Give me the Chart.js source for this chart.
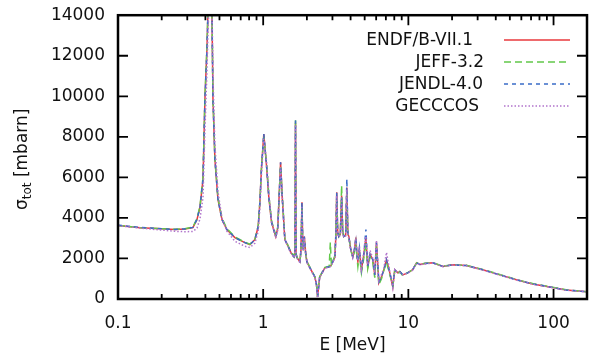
<!DOCTYPE html>
<html>
<head>
<meta charset="utf-8">
<script src="https://cdn.jsdelivr.net/npm/chart.js@4.4.1/dist/chart.umd.min.js"></script>
<style>
  html, body { margin: 0; padding: 0; background: #fff; }
  #wrap { width: 589px; height: 353px; }
</style>
</head>
<body>
<div id="wrap"><canvas id="c" width="589" height="353"></canvas></div>
<script>
// energy grid in MeV, shared by all four evaluations
const energy = [
  0.1, 0.142, 0.2, 0.247, 0.289, 0.328, 0.35, 0.367, 0.385, 0.397,
  0.41, 0.416, 0.433, 0.444, 0.451, 0.465, 0.488, 0.52, 0.562, 0.638,
  0.748, 0.81, 0.877, 0.924, 0.949, 0.975, 1.01, 1.055, 1.094, 1.142,
  1.22, 1.26, 1.288, 1.318, 1.351, 1.41, 1.486, 1.55, 1.63, 1.655,
  1.67, 1.685, 1.71, 1.79, 1.82, 1.85, 1.87, 1.89, 1.92, 1.96,
  2.0, 2.1, 2.27, 2.33, 2.37, 2.41, 2.45, 2.66, 2.85, 2.9,
  2.95, 3.02, 3.12, 3.17, 3.21, 3.26, 3.32, 3.4, 3.47, 3.53,
  3.59, 3.7, 3.77, 3.83, 3.89, 4.0, 4.14, 4.25, 4.35, 4.42,
  4.49, 4.6, 4.75, 4.93, 5.1, 5.25, 5.45, 5.69, 5.87, 6.03,
  6.26, 6.53, 6.77, 7.07, 7.45, 7.81, 8.06, 8.45, 8.73, 9.15,
  9.9, 10.7, 11.4, 12.0, 13.0, 14.7, 17.3, 20.2, 25.1, 32.5,
  42.6, 55.5, 71.8, 94, 122, 170
]

// total cross sections in mbarn
const endf = [
  3630, 3520, 3460, 3425, 3450, 3525, 3920, 4520, 5900, 9880,
  12360, 14000, 17000, 14000, 9880, 6900, 4915, 3920, 3425, 3030,
  2780, 2680, 2930, 3575, 4770, 6550, 8140, 6550, 5000, 3775,
  3080, 3500, 5080, 6740, 5080, 2930, 2600, 2300, 2085, 2300,
  8700, 2200, 2035, 1840, 2400, 4770, 3000, 2430, 3080, 2300,
  1840, 1540, 1090, 700, 100, 600, 1090, 1540, 1590, 1620,
  1680, 1840, 2085, 3200, 5260, 3300, 3080, 3200, 5100, 3300,
  3080, 3150, 5500, 3200, 3080, 2500, 2085, 2400, 3030, 2200,
  1840, 2400, 1440, 2185, 3000, 1590, 2200, 1940, 1190, 2780,
  795, 1090, 1440, 1940, 1290, 595, 1440, 1290, 1355, 1190,
  1290, 1440, 1790, 1700, 1750, 1790, 1600, 1690, 1650, 1440,
  1190, 945, 745, 595, 445, 360
]

const jeff = [
  3630, 3520, 3470, 3440, 3470, 3550, 3960, 4580, 6000, 9950,
  12450, 14100, 17000, 14000, 9950, 6950, 5000, 3980, 3480, 3060,
  2800, 2700, 2950, 3600, 4800, 6600, 8000, 6700, 5100, 3850,
  3150, 3550, 5100, 6600, 5200, 3000, 2620, 2330, 2100, 2400,
  8890, 2250, 2050, 1860, 2300, 4600, 2900, 2400, 2900, 2250,
  1850, 1560, 1100, 720, 120, 620, 1100, 1560, 1620, 2780,
  1700, 1860, 2150, 3300, 5000, 3300, 3100, 3250, 5600, 3400,
  3100, 3200, 5300, 3200, 3050, 2450, 2050, 2300, 2800, 2100,
  1600, 2200, 1300, 2000, 2800, 1500, 2100, 1800, 1050, 2600,
  700, 1000, 1400, 1800, 1200, 650, 1400, 1250, 1350, 1150,
  1300, 1450, 1780, 1720, 1760, 1790, 1620, 1690, 1660, 1460,
  1210, 960, 760, 605, 455, 360
]

const jendl = [
  3640, 3530, 3470, 3430, 3455, 3530, 3930, 4530, 5900, 9880,
  12360, 14000, 17000, 14000, 9880, 6900, 4915, 3920, 3425, 3030,
  2780, 2680, 2930, 3575, 4770, 6550, 8140, 6550, 5000, 3775,
  3080, 3500, 5080, 6740, 5080, 2930, 2600, 2300, 2085, 2300,
  8800, 2200, 2035, 1840, 2400, 4770, 3000, 2430, 3080, 2300,
  1840, 1540, 1090, 700, 100, 600, 1090, 1540, 1590, 1650,
  1680, 1840, 2085, 3200, 5260, 3300, 3080, 3200, 5000, 3300,
  3080, 3150, 5910, 3250, 3080, 2500, 2085, 2450, 3030, 2200,
  1840, 2500, 1440, 2185, 3430, 1590, 2200, 1940, 1190, 2780,
  850, 1090, 1440, 1940, 1290, 700, 1440, 1290, 1355, 1190,
  1290, 1440, 1790, 1700, 1750, 1790, 1600, 1690, 1650, 1440,
  1190, 945, 745, 595, 445, 360
]

const gecccos = [
  3620, 3500, 3400, 3340, 3320, 3330, 3500, 3950, 5000, 8300,
  11200, 13000, 16500, 14500, 11000, 7600, 5300, 4000, 3350, 2850,
  2600, 2540, 2750, 3350, 4500, 6300, 7900, 6800, 5200, 3850,
  3000, 3400, 4900, 6500, 5200, 2950, 2550, 2250, 2050, 2250,
  8600, 2200, 2000, 1800, 2300, 4600, 2900, 2400, 3000, 2250,
  1800, 1500, 1050, 650, 50, 580, 1050, 1520, 1570, 1600,
  1650, 1820, 2050, 3100, 5100, 3200, 3050, 3150, 5000, 3250,
  3050, 3100, 5400, 3150, 3000, 2450, 2050, 2500, 2900, 2300,
  1900, 2600, 1500, 2300, 3100, 1700, 2400, 2000, 1300, 2900,
  900, 1200, 1500, 2300, 1350, 550, 1450, 1300, 1300, 1200,
  1280, 1420, 1760, 1690, 1730, 1770, 1610, 1680, 1640, 1430,
  1180, 935, 735, 585, 435, 350
]

const seriesNames = ['ENDF/B-VII.1', 'JEFF-3.2', 'JENDL-4.0', 'GECCCOS']
const xMajorTicks = [0.1, 1, 10, 100]
const xMinorTicks = [0.2, 0.3, 0.4, 0.5, 0.6, 0.7, 0.8, 0.9,
  2, 3, 4, 5, 6, 7, 8, 9, 20, 30, 40, 50, 60, 70, 80, 90]
const yTicks = [0, 2000, 4000, 6000, 8000, 10000, 12000, 14000]

const FONT = '"DejaVu Sans", sans-serif'

const pts = arr => energy.map((e, i) => ({ x: e, y: arr[i] }))

const styles = [
  { color: '#e8383c', dash: [] },
  { color: '#62c84a', dash: [7, 4] },
  { color: '#3a6cc8', dash: [4, 4] },
  { color: '#b174cc', dash: [1.5, 2] }
]

// frame, inward ticks, legend and axis titles
const decorations = {
  id: 'decorations',
  afterDraw(chart) {
    const { ctx, chartArea: a, scales: { x, y } } = chart
    ctx.save()
    ctx.setLineDash([])
    ctx.strokeStyle = '#000'
    ctx.lineWidth = 1.8
    ctx.beginPath()
    xMajorTicks.forEach(v => {
      const px = x.getPixelForValue(v)
      ctx.moveTo(px, a.bottom); ctx.lineTo(px, a.bottom - 10)
      ctx.moveTo(px, a.top); ctx.lineTo(px, a.top + 10)
    })
    xMinorTicks.forEach(v => {
      const px = x.getPixelForValue(v)
      ctx.moveTo(px, a.bottom); ctx.lineTo(px, a.bottom - 5)
      ctx.moveTo(px, a.top); ctx.lineTo(px, a.top + 5)
    })
    yTicks.forEach(v => {
      const py = y.getPixelForValue(v)
      ctx.moveTo(a.left, py); ctx.lineTo(a.left + 10, py)
      ctx.moveTo(a.right, py); ctx.lineTo(a.right - 10, py)
    })
    ctx.stroke()
    ctx.lineWidth = 2.5
    ctx.strokeRect(a.left, a.top, a.right - a.left, a.bottom - a.top)

    // legend
    const rows = [
      { right: 473, y: 40 },
      { right: 484, y: 62 },
      { right: 483, y: 84 },
      { right: 479, y: 106 }
    ]
    ctx.font = '17px ' + FONT
    ctx.textAlign = 'right'
    ctx.textBaseline = 'middle'
    ctx.fillStyle = '#111'
    seriesNames.forEach((name, i) => {
      ctx.fillText(name, rows[i].right, rows[i].y + 1)
      ctx.beginPath()
      ctx.strokeStyle = styles[i].color
      ctx.lineWidth = 1.5
      ctx.setLineDash(styles[i].dash)
      ctx.moveTo(504, rows[i].y)
      ctx.lineTo(570, rows[i].y)
      ctx.stroke()
    })
    ctx.setLineDash([])

    // x title
    ctx.fillStyle = '#111'
    ctx.textAlign = 'center'
    ctx.textBaseline = 'alphabetic'
    ctx.fillText('E [MeV]', (a.left + a.right) / 2, 350)

    // y title with subscript
    ctx.translate(27, 210)
    ctx.rotate(-Math.PI / 2)
    ctx.textAlign = 'left'
    ctx.fillText('σ', 0, 0)
    let w = ctx.measureText('σ').width
    ctx.font = '12px ' + FONT
    ctx.fillText('tot', w, 4)
    w += ctx.measureText('tot').width
    ctx.font = '17px ' + FONT
    ctx.fillText(' [mbarn]', w, 0)
    ctx.restore()
  }
}

new Chart(document.getElementById('c'), {
  type: 'line',
  data: {
    datasets: [
      { label: seriesNames[0], data: pts(endf), order: 4 },
      { label: seriesNames[1], data: pts(jeff), order: 3 },
      { label: seriesNames[2], data: pts(jendl), order: 2 },
      { label: seriesNames[3], data: pts(gecccos), order: 1 }
    ].map((d, i) => Object.assign(d, {
      borderColor: styles[i].color,
      borderDash: styles[i].dash,
      borderWidth: 1.5,
      pointRadius: 0,
      tension: 0,
      fill: false
    }))
  },
  options: {
    responsive: false,
    animation: false,
    devicePixelRatio: 1,
    layout: { padding: { left: 0, right: 2, top: 10.3, bottom: 0 } },
    plugins: {
      legend: { display: false },
      tooltip: { enabled: false }
    },
    scales: {
      x: {
        type: 'logarithmic',
        min: 0.1,
        max: 170,
        afterBuildTicks: s => { s.ticks = xMajorTicks.map(v => ({ value: v })) },
        afterFit: s => { s.height = 54 },
        grid: { display: false },
        border: { display: false },
        ticks: {
          autoSkip: false,
          maxRotation: 0,
          padding: 6,
          color: '#111',
          font: { family: FONT, size: 17 },
          callback: v => String(v)
        }
      },
      y: {
        min: 0,
        max: 14000,
        afterBuildTicks: s => { s.ticks = yTicks.map(v => ({ value: v })) },
        afterFit: s => { s.width = 118 },
        grid: { display: false },
        border: { display: false },
        ticks: {
          padding: 5,
          color: '#111',
          font: { family: FONT, size: 17 },
          callback: v => String(v)
        }
      }
    }
  },
  plugins: [decorations]
})
</script>
</body>
</html>
